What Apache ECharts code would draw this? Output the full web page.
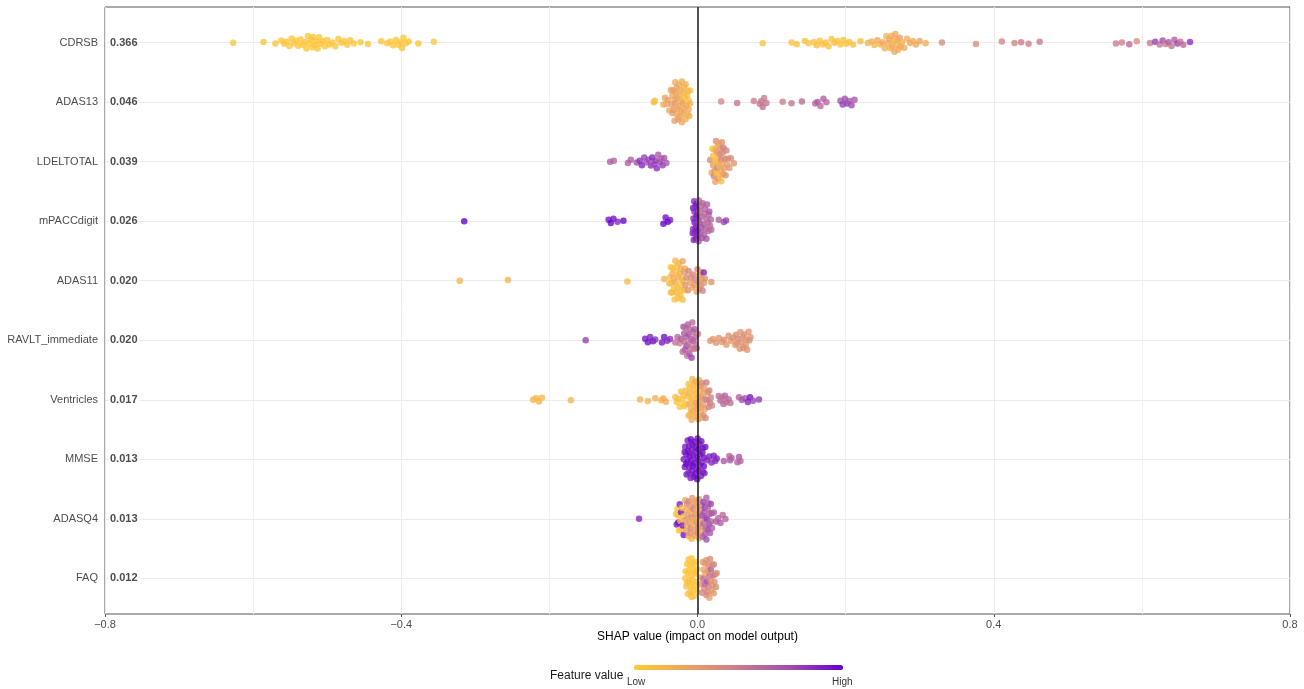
<!DOCTYPE html>
<html>
<head>
<meta charset="utf-8">
<script src="https://cdn.jsdelivr.net/npm/echarts@6/dist/echarts.min.js"></script>
<style>
html,body{margin:0;padding:0;background:#fff;}
#chart{width:1304px;height:689px;}
</style>
</head>
<body>
<div id="chart"></div>
<script>
// ---- Data: [SHAP value, normalised feature value] per observation ----
const features = ['CDRSB','ADAS13','LDELTOTAL','mPACCdigit','ADAS11','RAVLT_immediate','Ventricles','MMSE','ADASQ4','FAQ'];
const meanAbsShap = [0.366,0.046,0.039,0.026,0.020,0.020,0.017,0.013,0.013,0.012];
const xTickValues = [-0.8,-0.4,0,0.4,0.8];

const CDRSB = [
[-0.627,0.05],[-0.586,0.04],[-0.570,0.05],[-0.562,0.03],[-0.558,0.05],[-0.555,0.04],[-0.551,0.03],[-0.548,0.05],[-0.545,0.04],[-0.542,0.03],[-0.539,0.05],[-0.536,0.04],[-0.533,0.03],[-0.530,0.05],[-0.528,0.04],[-0.526,0.03],[-0.524,0.05],[-0.522,0.04],[-0.520,0.03],[-0.519,0.05],[-0.517,0.04],[-0.515,0.03],[-0.513,0.05],[-0.511,0.04],[-0.509,0.03],[-0.506,0.05],[-0.503,0.04],[-0.500,0.03],[-0.497,0.05],[-0.493,0.04],[-0.489,0.03],[-0.485,0.05],[-0.481,0.04],[-0.477,0.03],[-0.473,0.05],[-0.469,0.04],[-0.464,0.05],[-0.455,0.04],[-0.445,0.05],[-0.427,0.04],[-0.419,0.05],[-0.415,0.03],[-0.411,0.04],[-0.407,0.05],[-0.404,0.03],[-0.401,0.04],[-0.399,0.05],[-0.397,0.03],[-0.394,0.04],[-0.390,0.05],[-0.377,0.04],[-0.356,0.05],
[0.088,0.06],[0.127,0.06],[0.134,0.07],[0.145,0.06],[0.150,0.07],[0.157,0.06],[0.161,0.08],[0.165,0.07],[0.169,0.06],[0.173,0.08],[0.177,0.07],[0.181,0.06],[0.185,0.08],[0.189,0.07],[0.193,0.06],[0.197,0.08],[0.201,0.07],[0.205,0.06],[0.210,0.08],[0.220,0.10],[0.230,0.15],[0.235,0.18],[0.239,0.14],[0.243,0.20],[0.247,0.16],[0.250,0.22],[0.253,0.18],[0.255,0.14],[0.257,0.20],[0.259,0.24],[0.261,0.16],[0.263,0.21],[0.265,0.18],[0.267,0.23],[0.269,0.15],[0.271,0.20],[0.273,0.25],[0.276,0.17],[0.279,0.22],[0.283,0.19],[0.287,0.24],[0.291,0.18],[0.295,0.22],[0.300,0.25],[0.308,0.20],[0.262,0.19],[0.266,0.24],[0.270,0.17],[0.274,0.21],[0.330,0.40],[0.376,0.40],[0.411,0.45],[0.428,0.45],[0.437,0.50],[0.447,0.48],[0.462,0.52],[0.565,0.50],[0.573,0.48],[0.583,0.62],[0.593,0.38],[0.611,0.50],[0.618,0.80],[0.624,0.55],[0.628,0.75],[0.632,0.50],[0.636,0.70],[0.640,0.55],[0.644,0.65],[0.648,0.80],[0.652,0.55],[0.656,0.60],[0.665,0.85]
];
const ADAS13 = [
[-0.059,0.10],[-0.0576,0.08],[-0.046,0.20],[-0.044,0.25],[-0.042,0.22],[-0.040,0.28],[-0.038,0.24],
[-0.036,0.25],[-0.035,0.30],[-0.034,0.22],[-0.034,0.28],[-0.033,0.26],[-0.032,0.30],[-0.031,0.24],[-0.031,0.27],[-0.030,0.22],[-0.030,0.30],[-0.029,0.26],[-0.028,0.24],[-0.028,0.28],[-0.027,0.20],[-0.027,0.26],[-0.026,0.29],[-0.025,0.22],[-0.025,0.25],[-0.024,0.18],[-0.024,0.27],[-0.023,0.21],[-0.022,0.25],[-0.022,0.16],[-0.021,0.23],[-0.021,0.19],[-0.020,0.26],[-0.019,0.15],[-0.019,0.22],[-0.018,0.18],[-0.018,0.24],[-0.017,0.12],[-0.016,0.20],[-0.016,0.15],[-0.015,0.22],[-0.014,0.10],[-0.013,0.18],[-0.013,0.12],[-0.012,0.20],[-0.012,0.08],[-0.011,0.15],[-0.010,0.10],[-0.010,0.18],
[0.032,0.42],[0.0535,0.55],[0.076,0.50],[0.084,0.55],[0.086,0.52],[0.088,0.56],[0.090,0.50],[0.093,0.55],[0.115,0.50],[0.127,0.55],[0.141,0.60],[0.159,0.62],[0.162,0.70],[0.166,0.60],[0.170,0.66],[0.174,0.62],[0.193,0.72],[0.196,0.80],[0.199,0.74],[0.202,0.80],[0.205,0.70],[0.208,0.76],[0.212,0.70]
];
const LDELTOTAL = [
[-0.118,0.66],[-0.113,0.64],[-0.094,0.66],[-0.090,0.68],[-0.082,0.74],[-0.078,0.84],[-0.075,0.88],[-0.072,0.80],[-0.069,0.74],[-0.066,0.78],[-0.063,0.84],[-0.061,0.88],[-0.059,0.76],[-0.057,0.82],[-0.055,0.86],[-0.053,0.70],[-0.051,0.78],[-0.049,0.66],[-0.047,0.80],[-0.045,0.72],[-0.042,0.70],
[0.017,0.40],[0.019,0.20],[0.020,0.05],[0.021,0.30],[0.021,0.10],[0.022,0.45],[0.023,0.15],[0.023,0.35],[0.024,0.08],[0.024,0.25],[0.025,0.40],[0.025,0.12],[0.026,0.30],[0.026,0.05],[0.027,0.20],[0.027,0.45],[0.028,0.10],[0.028,0.35],[0.029,0.25],[0.029,0.15],[0.030,0.40],[0.030,0.08],[0.031,0.30],[0.031,0.20],[0.032,0.45],[0.032,0.12],[0.033,0.35],[0.033,0.22],[0.034,0.40],[0.035,0.28],[0.035,0.48],[0.036,0.30],[0.037,0.42],[0.038,0.35],[0.039,0.45],[0.040,0.30],[0.041,0.38],[0.043,0.32],[0.045,0.40],[0.049,0.35]
];
const mPACCdigit = [
[-0.315,1.0],[-0.120,0.95],[-0.117,1.0],[-0.1135,0.95],[-0.108,0.88],[-0.100,1.0],[-0.046,1.0],[-0.043,0.95],[-0.040,1.0],[-0.037,0.90],
[-0.0065,0.88],[-0.006,0.92],[-0.0055,0.85],[-0.005,0.90],[-0.0045,0.86],[-0.004,0.93],[-0.0035,0.88],[-0.003,0.84],[-0.0025,0.90],[-0.002,0.87],[-0.0015,0.92],[-0.001,0.85],[-0.0005,0.89],[0.000,0.86],[0.0005,0.91],[0.001,0.84],[-0.004,0.88],[-0.002,0.90],[0.000,0.88],[-0.006,0.86],
[0.0015,0.70],[0.002,0.60],[0.003,0.65],[0.004,0.72],[0.005,0.58],[0.006,0.66],[0.007,0.62],[0.008,0.70],[0.009,0.56],[0.010,0.64],[0.011,0.68],[0.012,0.60],[0.013,0.66],[0.014,0.58],[0.015,0.64],[0.016,0.70],[0.017,0.60],[0.018,0.65],[0.0187,0.62],[0.003,0.58],[0.006,0.74],[0.009,0.66],[0.012,0.72],[0.015,0.60],[0.005,0.68],
[0.0287,0.65],[0.0355,0.75],[0.0386,0.80]
];
const ADAS11 = [
[-0.321,0.15],[-0.256,0.15],[-0.0946,0.12],[-0.045,0.15],
[-0.038,0.12],[-0.037,0.08],[-0.036,0.15],[-0.036,0.05],[-0.035,0.10],[-0.034,0.18],[-0.034,0.06],[-0.033,0.12],[-0.032,0.08],[-0.032,0.16],[-0.031,0.05],[-0.030,0.12],[-0.030,0.20],[-0.029,0.08],[-0.028,0.14],[-0.028,0.06],[-0.027,0.10],[-0.026,0.18],[-0.026,0.07],[-0.025,0.12],[-0.024,0.05],[-0.024,0.15],[-0.023,0.10],[-0.022,0.20],[-0.022,0.08],[-0.021,0.14],[-0.020,0.10],[-0.020,0.25],[-0.019,0.12],[-0.018,0.30],[-0.018,0.08],[-0.017,0.20],[-0.0165,0.35],
[-0.015,0.40],[-0.013,0.35],[-0.012,0.45],[-0.010,0.30],[-0.009,0.38],[-0.007,0.25],[-0.006,0.42],[-0.004,0.32],[-0.003,0.45],[-0.001,0.28],[0.000,0.40],[0.001,0.35],[0.002,0.30],[0.003,0.42],[0.004,0.26],[0.005,0.38],[0.006,0.30],[0.007,0.45],[0.0084,0.90],[0.009,0.32],[0.010,0.36],[0.0187,0.35]
];
const RAVLT_immediate = [
[-0.151,0.80],[-0.0707,0.92],[-0.067,0.95],[-0.064,0.90],[-0.060,0.95],[-0.057,0.85],[-0.048,0.92],[-0.045,0.95],[-0.041,0.88],[-0.037,0.85],
[-0.030,0.55],[-0.027,0.62],[-0.024,0.50],[-0.022,0.68],[-0.020,0.58],[-0.019,0.72],[-0.018,0.55],[-0.017,0.65],[-0.016,0.60],[-0.015,0.75],[-0.014,0.52],[-0.013,0.66],[-0.012,0.58],[-0.011,0.70],[-0.010,0.62],[-0.009,0.55],[-0.008,0.78],[-0.007,0.60],[-0.006,0.66],[-0.005,0.52],[-0.004,0.70],[-0.003,0.58],[-0.015,0.62],[-0.012,0.72],[-0.009,0.64],[-0.006,0.56],[-0.018,0.68],[-0.003,0.62],[-0.001,0.55],[0.0007,0.50],
[0.0173,0.35],[0.021,0.32],[0.025,0.36],[0.029,0.34],[0.033,0.32],[0.036,0.38],[0.039,0.33],[0.042,0.36],[0.045,0.34],[0.048,0.38],[0.051,0.32],[0.053,0.36],[0.055,0.40],[0.057,0.33],[0.059,0.37],[0.061,0.35],[0.063,0.38],[0.065,0.33],[0.067,0.36],[0.069,0.34],[0.0715,0.36],[0.052,0.38],[0.058,0.34],[0.062,0.40],[0.066,0.36],[0.070,0.38]
];
const Ventricles = [
[-0.222,0.15],[-0.218,0.12],[-0.214,0.15],[-0.210,0.12],[-0.171,0.15],[-0.0775,0.15],[-0.067,0.15],[-0.057,0.18],[-0.049,0.15],[-0.046,0.20],[-0.0427,0.18],
[-0.030,0.08],[-0.028,0.06],[-0.026,0.10],[-0.024,0.05],[-0.022,0.08],[-0.020,0.06],[-0.019,0.10],[-0.018,0.05],[-0.016,0.08],[-0.015,0.06],
[-0.013,0.10],[-0.012,0.15],[-0.012,0.08],[-0.011,0.20],[-0.010,0.12],[-0.010,0.06],[-0.009,0.18],[-0.008,0.10],[-0.008,0.22],[-0.007,0.14],[-0.006,0.08],[-0.006,0.20],[-0.005,0.12],[-0.004,0.18],[-0.004,0.06],[-0.003,0.15],[-0.002,0.25],[-0.002,0.10],[-0.001,0.18],[0.000,0.12],[0.000,0.28],[0.001,0.20],[0.002,0.15],[0.002,0.30],[0.003,0.22],[0.004,0.18],[0.004,0.32],[0.005,0.25],[0.006,0.20],[0.006,0.35],[0.007,0.28],[0.008,0.22],[0.008,0.38],[0.009,0.30],[0.0097,0.25],[-0.011,0.14],[-0.007,0.10],[-0.003,0.20],[0.001,0.26],[0.005,0.30],
[0.010,0.45],[0.011,0.42],[0.012,0.50],[0.013,0.45],[0.014,0.40],[0.015,0.48],[0.016,0.44],[0.017,0.52],[0.018,0.46],[0.0196,0.42],
[0.0287,0.58],[0.031,0.62],[0.033,0.55],[0.035,0.60],[0.037,0.65],[0.039,0.58],[0.042,0.62],[0.0445,0.56],
[0.056,0.65],[0.060,0.70],[0.064,0.72],[0.068,0.88],[0.071,0.95],[0.075,0.78],[0.083,0.82]
];
const MMSE = [
[-0.0186,0.92],[-0.0174,0.96],[-0.0166,0.90],[-0.0153,0.98],[-0.0147,0.94],[-0.0133,0.91],[-0.0127,0.97],[-0.0114,0.93],[-0.0106,0.99],[-0.0093,0.90],[-0.0087,0.95],[-0.0076,0.92],[-0.0064,0.98],[-0.0057,0.94],[-0.0043,0.96],[-0.0036,0.90],[-0.0024,0.97],[-0.0016,0.93],[-0.0004,0.99],[0.0006,0.91],[0.0014,0.95],[0.0027,0.92],[0.0033,0.98],[0.0046,0.94],[0.0054,0.90],[0.0067,0.96],[0.0073,0.93],[0.0086,0.97],[0.0094,0.91],[0.0106,0.95],
[-0.0171,0.94],[-0.0152,0.90],[-0.0131,0.96],[-0.0109,0.92],[-0.0091,0.98],[-0.0069,0.94],[-0.0052,0.91],[-0.0031,0.97],[-0.0011,0.93],[0.0011,0.99],[0.0029,0.92],[0.0052,0.95],[0.0071,0.90],[0.0089,0.96],[-0.0122,0.88],[-0.0079,0.93],[-0.0041,0.99],[0.0002,0.94],
[0.013,0.88],[0.016,0.90],[0.019,0.86],[0.022,0.92],[0.024,0.85],[0.026,0.88],[0.0355,0.70],[0.043,0.62],[0.044,0.70],[0.046,0.65],[0.054,0.66],[0.056,0.72],[0.058,0.64]
];
const ADASQ4 = [
[-0.0789,0.88],
[-0.029,0.05],[-0.028,0.92],[-0.027,0.08],[-0.026,0.95],[-0.025,0.05],[-0.024,0.90],[-0.023,0.10],[-0.022,0.95],[-0.021,0.06],[-0.020,0.92],[-0.019,0.08],[-0.0187,0.95],[-0.026,0.10],[-0.022,0.06],
[-0.0165,0.25],[-0.016,0.35],[-0.015,0.20],[-0.014,0.40],[-0.014,0.15],[-0.013,0.30],[-0.012,0.22],[-0.012,0.42],[-0.011,0.28],[-0.010,0.18],[-0.010,0.35],[-0.009,0.25],[-0.008,0.40],[-0.008,0.15],[-0.007,0.30],[-0.006,0.22],[-0.006,0.45],[-0.005,0.28],[-0.004,0.35],[-0.004,0.18],[-0.003,0.40],[-0.002,0.25],[-0.002,0.32],[-0.001,0.20],[0.000,0.38],[0.000,0.28],[0.001,0.42],[0.002,0.22],[0.002,0.35],[0.003,0.30],[0.004,0.45],[0.004,0.25],[0.005,0.38],[0.006,0.32],[-0.015,0.32],[-0.009,0.42],[-0.003,0.30],[0.001,0.26],
[0.006,0.75],[0.007,0.65],[0.008,0.80],[0.008,0.62],[0.009,0.72],[0.010,0.68],[0.010,0.82],[0.011,0.60],[0.012,0.75],[0.012,0.66],[0.013,0.78],[0.014,0.62],[0.014,0.72],[0.015,0.68],[0.016,0.80],[0.016,0.64],[0.017,0.70],[0.018,0.76],[0.018,0.62],[0.019,0.70],[0.0196,0.66],[0.011,0.74],
[0.022,0.65],[0.025,0.70],[0.028,0.62],[0.031,0.68],[0.034,0.60],[0.0377,0.64]
];
const FAQ = [
[-0.0165,0.05],[-0.016,0.03],[-0.015,0.06],[-0.014,0.04],[-0.014,0.08],[-0.013,0.03],[-0.012,0.05],[-0.012,0.07],[-0.011,0.04],[-0.010,0.06],[-0.010,0.03],[-0.009,0.05],[-0.008,0.08],[-0.008,0.04],[-0.007,0.06],[-0.006,0.03],[-0.006,0.05],[-0.005,0.07],[-0.004,0.04],[-0.004,0.06],[-0.003,0.03],[-0.002,0.05],[-0.002,0.08],[-0.001,0.04],[-0.0007,0.06],[-0.009,0.07],[-0.005,0.04],[-0.013,0.06],
[0.0038,0.35],[0.005,0.28],[0.006,0.45],[0.007,0.30],[0.008,0.55],[0.008,0.25],[0.009,0.40],[0.010,0.32],[0.010,0.62],[0.011,0.28],[0.012,0.45],[0.012,0.35],[0.013,0.70],[0.014,0.30],[0.014,0.42],[0.015,0.38],[0.016,0.55],[0.016,0.28],[0.017,0.40],[0.018,0.35],[0.018,0.65],[0.019,0.30],[0.020,0.45],[0.020,0.38],[0.021,0.50],[0.022,0.32],[0.022,0.42],[0.023,0.36],[0.024,0.55],[0.025,0.40],[0.026,0.35],[0.015,0.48]
];
const rows = [CDRSB, ADAS13, LDELTOTAL, mPACCdigit, ADAS11, RAVLT_immediate, Ventricles, MMSE, ADASQ4, FAQ];

// ---- Quasirandom (van der Corput) beeswarm offsets, scaled by local density ----
function vdc(n){ let v = 0, d = 1; while (n > 0){ d *= 2; v += (n % 2) / d; n = Math.floor(n / 2); } return v; }
function swarm(points, rowIndex){
  const h = 0.004, k = 2.5e-4, maxHalf = 0.36;
  const order = points.map((p, i) => i).sort((a, b) => points[a][0] - points[b][0]);
  return order.map((idx, rank) => {
    const x = points[idx][0];
    let d = 0;
    for (const q of points){ const u = (x - q[0]) / h; d += Math.exp(-0.5 * u * u); }
    d /= h * Math.sqrt(2 * Math.PI);
    const half = Math.min(maxHalf, d * k);
    const off = (vdc(rank + 1) * 2 - 1) * half;
    return [x, rowIndex + off, points[idx][1]];
  });
}
const pointData = [];
rows.forEach((r, i) => swarm(r, i).forEach(p => pointData.push(p)));
const rowIdx = features.map((f, i) => i);

const FONT = 'Liberation Sans, Arial, Helvetica, sans-serif';
const chart = echarts.init(document.getElementById('chart'));
chart.setOption({
  animation: false,
  textStyle: { fontFamily: FONT },
  grid: { left: 105, right: 14, top: 7, bottom: 75, show: true, borderColor: '#555555', borderWidth: 1,
          backgroundColor: '#ffffff', containLabel: false, outerBoundsMode: 'none' },
  xAxis: {
    type: 'value', min: -0.8, max: 0.8, interval: 0.4, position: 'bottom',
    axisLine: { show: false, onZero: false },
    axisTick: { show: true, length: 3, lineStyle: { color: '#555555' } },
    axisLabel: { color: '#4d4d4d', fontSize: 11, margin: 5, showMinLabel: true, showMaxLabel: true,
      formatter: v => (v < 0 ? '\u2212' : '') + Math.abs(v).toFixed(1) },
    splitLine: { show: true, lineStyle: { color: '#ebebeb', width: 1 } },
    minorTick: { show: false, splitNumber: 2 },
    minorSplitLine: { show: true, lineStyle: { color: '#f0f0f0', width: 1 } },
    name: 'SHAP value (impact on model output)', nameLocation: 'middle', nameGap: 17, nameMoveOverlap: false,
    nameTextStyle: { color: '#000', fontSize: 12, fontFamily: FONT }
  },
  yAxis: [{
    type: 'value', min: -0.6, max: 9.6, inverse: true, position: 'left',
    axisLine: { show: false, onZero: false },
    axisTick: { show: false, customValues: rowIdx },
    axisLabel: { customValues: rowIdx, color: '#4d4d4d', fontSize: 11, margin: 7, formatter: v => features[v] },
    splitLine: { show: true, lineStyle: { color: '#ebebeb', width: 1.2 } }
  }, {
    type: 'value', min: -0.6, max: 9.6, inverse: true, position: 'left', z: 8,
    axisLine: { show: false, onZero: false }, axisTick: { show: false },
    axisLabel: { inside: true, customValues: rowIdx, color: '#4d4d4d', fontSize: 11, fontWeight: 'bold', margin: 4,
      backgroundColor: '#ffffff', padding: [1, 2, 1, 1],
      formatter: v => meanAbsShap[v].toFixed(3) },
    splitLine: { show: false }
  }],
  visualMap: {
    type: 'continuous', min: 0, max: 1, dimension: 2, seriesIndex: 0,
    orient: 'horizontal', left: 634, top: 665, itemWidth: 5, itemHeight: 209, padding: 0,
    calculable: false, hoverLink: false,
    inRange: { color: ['#FFCC33', '#EDA35E', '#CB7C8A', '#A14CB0', '#6600CC'] }
  },
  graphic: [
    { type: 'text', left: 550, top: 670, style: { text: 'Feature value', fontSize: 12, fill: '#1a1a1a', fontFamily: FONT } },
    { type: 'text', left: 627, top: 677, style: { text: 'Low', fontSize: 10, fill: '#333', fontFamily: FONT } },
    { type: 'text', left: 832, top: 677, style: { text: 'High', fontSize: 10, fill: '#333', fontFamily: FONT } }
  ],
  series: [{
    type: 'scatter', xAxisIndex: 0, yAxisIndex: 0, z: 2,
    symbolSize: 6.5, itemStyle: { opacity: 0.78 },
    data: pointData, silent: true,
    markLine: {
      silent: true, symbol: ['none', 'none'], z: 6, label: { show: false },
      lineStyle: { color: '#1a1a1a', width: 1.5, type: 'solid' },
      data: [{ xAxis: 0 }]
    }
  }]
});
</script>
</body>
</html>
